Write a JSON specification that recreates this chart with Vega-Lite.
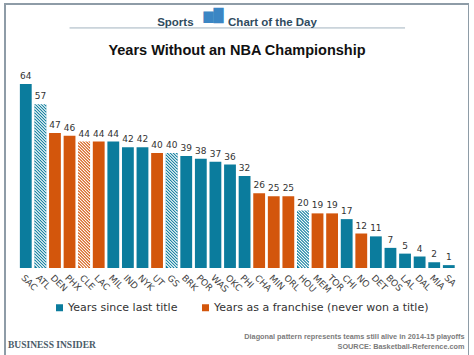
{
  "$schema": "https://vega.github.io/schema/vega-lite/v6.json",
  "autosize": "none",
  "padding": {"left": 5, "top": 4, "right": 0, "bottom": 0},
  "width": 464,
  "height": 352,
  "background": "white",
  "config": {"view": {"stroke": "#8e9ca7", "strokeWidth": 2}},
  "title": {
    "text": "Sports\u2003\u2003\u2003Chart of the Day",
    "subtitle": "Years Without an NBA Championship",
    "anchor": "middle",
    "frame": "group",
    "offset": -53,
    "font": "Liberation Sans",
    "fontSize": 11.5,
    "fontWeight": "bold",
    "color": "#2f4b5e",
    "subtitleFont": "Liberation Sans",
    "subtitleFontSize": 14.5,
    "subtitleFontWeight": "bold",
    "subtitleColor": "#111111",
    "subtitlePadding": 15
  },
  "data": {
    "values": [
      {"team": "SAC", "years": 64, "type": "Years since last title", "alive": false},
      {"team": "ATL", "years": 57, "type": "Years since last title", "alive": true},
      {"team": "DEN", "years": 47, "type": "Years as a franchise (never won a title)", "alive": false},
      {"team": "PHX", "years": 46, "type": "Years as a franchise (never won a title)", "alive": false},
      {"team": "CLE", "years": 44, "type": "Years as a franchise (never won a title)", "alive": true},
      {"team": "LAC", "years": 44, "type": "Years as a franchise (never won a title)", "alive": false},
      {"team": "MIL", "years": 44, "type": "Years since last title", "alive": false},
      {"team": "IND", "years": 42, "type": "Years since last title", "alive": false},
      {"team": "NYK", "years": 42, "type": "Years since last title", "alive": false},
      {"team": "UT", "years": 40, "type": "Years as a franchise (never won a title)", "alive": false},
      {"team": "GS", "years": 40, "type": "Years since last title", "alive": true},
      {"team": "BRK", "years": 39, "type": "Years since last title", "alive": false},
      {"team": "POR", "years": 38, "type": "Years since last title", "alive": false},
      {"team": "WAS", "years": 37, "type": "Years since last title", "alive": false},
      {"team": "OKC", "years": 36, "type": "Years since last title", "alive": false},
      {"team": "PHI", "years": 32, "type": "Years since last title", "alive": false},
      {"team": "CHA", "years": 26, "type": "Years as a franchise (never won a title)", "alive": false},
      {"team": "MIN", "years": 25, "type": "Years as a franchise (never won a title)", "alive": false},
      {"team": "ORL", "years": 25, "type": "Years as a franchise (never won a title)", "alive": false},
      {"team": "HOU", "years": 20, "type": "Years since last title", "alive": true},
      {"team": "MEM", "years": 19, "type": "Years as a franchise (never won a title)", "alive": false},
      {"team": "TOR", "years": 19, "type": "Years as a franchise (never won a title)", "alive": false},
      {"team": "CHI", "years": 17, "type": "Years since last title", "alive": false},
      {"team": "NO", "years": 12, "type": "Years as a franchise (never won a title)", "alive": false},
      {"team": "DET", "years": 11, "type": "Years since last title", "alive": false},
      {"team": "BOS", "years": 7, "type": "Years since last title", "alive": false},
      {"team": "LAL", "years": 5, "type": "Years since last title", "alive": false},
      {"team": "DAL", "years": 4, "type": "Years since last title", "alive": false},
      {"team": "MIA", "years": 2, "type": "Years since last title", "alive": false},
      {"team": "SA", "years": 1, "type": "Years since last title", "alive": false}
    ]
  },
  "layer": [
    {
      "mark": {"type": "bar"},
      "encoding": {
        "x": {
          "field": "team", "type": "nominal", "sort": null,
          "scale": {"paddingInner": 0.19, "paddingOuter": 1.007, "align": 0.51},
          "axis": {
            "orient": "bottom", "offset": -88, "domain": false, "ticks": false,
            "labelAngle": 45, "labelAlign": "left", "labelBaseline": "top", "labelPadding": 5,
            "labelOverlap": false, "labelFont": "DejaVu Sans", "labelFontSize": 9, "labelColor": "#444444",
            "title": ["Diagonal pattern represents teams still alive in 2014-15 playoffs", "SOURCE: Basketball-Reference.com"],
            "titleX": 459, "titleY": 70, "titleAlign": "right", "titleAnchor": "end", "titleBaseline": "alphabetic",
            "titleFont": "Liberation Sans",
            "titleFontSize": 7.3, "titleFontWeight": "bold", "titleColor": "#7b7b7b", "titleLineHeight": 10, "titleLimit": 0
          }
        },
        "y": {
          "field": "years", "type": "quantitative",
          "scale": {"domain": [-30.61, 91.83], "nice": false, "zero": false},
          "axis": {
            "orient": "left", "labels": false, "ticks": false, "domain": false, "grid": false,
            "title": "BUSINESS INSIDER", "titleAngle": 0, "titleX": 2.5, "titleY": 343,
            "titleAlign": "left", "titleBaseline": "alphabetic", "titleFont": "Liberation Serif",
            "titleFontSize": 9.5, "titleFontWeight": "bold", "titleColor": "#4a5b68"
          }
        },
        "y2": {"datum": 0},
        "color": {
          "field": "type", "type": "nominal",
          "scale": {"domain": ["Years since last title", "Years as a franchise (never won a title)"], "range": ["#0b7c9d", "#d3560c"]},
          "legend": {
            "title": null, "orient": "none", "legendX": 49, "legendY": 298, "direction": "horizontal",
            "symbolType": "square", "symbolSize": 49, "symbolStrokeWidth": 0, "symbolOpacity": 1,
            "labelFont": "DejaVu Sans", "labelFontSize": 11, "labelColor": "#333333", "labelLimit": 400,
            "columnPadding": 22, "labelOffset": 3, "padding": 0
          }
        }
      }
    },
    {
      "transform": [{"filter": "datum.alive"}],
      "mark": {
        "type": "point",
        "shape": "M-0.59,-0.39L-0.2,0M-0.59,-0.69L0.1,0M-0.59,-0.99L0.4,0M-0.59,-1.29l1.18,1.18m-1.18,-1.48l1.18,1.18m-1.18,-1.48l1.18,1.18m-1.18,-1.48l1.18,1.18m-1.18,-1.48l1.18,1.18m-1.18,-1.48l1.18,1.18m-1.18,-1.48l1.18,1.18m-1.18,-1.48l1.18,1.18m-1.18,-1.48l1.18,1.18m-1.18,-1.48l1.18,1.18m-1.18,-1.48l1.18,1.18m-1.18,-1.48l1.18,1.18m-1.18,-1.48l1.18,1.18m-1.18,-1.48l1.18,1.18m-1.18,-1.48l1.18,1.18m-1.18,-1.48l1.18,1.18m-1.18,-1.48l1.18,1.18m-1.18,-1.48l1.18,1.18m-1.18,-1.48l1.18,1.18m-1.18,-1.48l1.18,1.18m-1.18,-1.48l1.18,1.18m-1.18,-1.48l1.18,1.18m-1.18,-1.48l1.18,1.18m-1.18,-1.48l1.18,1.18m-1.18,-1.48l1.18,1.18m-1.18,-1.48l1.18,1.18m-1.18,-1.48l1.18,1.18m-1.18,-1.48l1.18,1.18m-1.18,-1.48l1.18,1.18m-1.18,-1.48l1.18,1.18m-1.18,-1.48l1.18,1.18m-1.18,-1.48l1.18,1.18m-1.18,-1.48l1.18,1.18m-1.18,-1.48l1.18,1.18m-1.18,-1.48l1.18,1.18m-1.18,-1.48l1.18,1.18m-1.18,-1.48l1.18,1.18m-1.18,-1.48l1.18,1.18m-1.18,-1.48l1.18,1.18m-1.18,-1.48l1.18,1.18m-1.18,-1.48l1.18,1.18m-1.18,-1.48l1.18,1.18m-1.18,-1.48l1.18,1.18m-1.18,-1.48l1.18,1.18m-1.18,-1.48l1.18,1.18m-1.18,-1.48l1.18,1.18m-1.18,-1.48l1.18,1.18m-1.18,-1.48l1.18,1.18m-1.18,-1.48l1.18,1.18m-1.18,-1.48l1.18,1.18m-1.18,-1.48l1.18,1.18m-1.18,-1.48l1.18,1.18m-1.18,-1.48l1.18,1.18m-1.18,-1.48l1.18,1.18m-1.18,-1.48l1.18,1.18m-1.18,-1.48l1.18,1.18m-1.18,-1.48l1.18,1.18m-1.18,-1.48l1.18,1.18m-1.18,-1.48l1.18,1.18",
        "size": 400,
        "filled": false,
        "color": "#ffffff",
        "stroke": "#ffffff",
        "strokeWidth": 1.1,
        "opacity": 1
      },
      "encoding": {
        "x": {"field": "team", "type": "nominal", "sort": null, "axis": null},
        "y": {
          "datum": 0, "type": "quantitative",
          "axis": {
            "orient": "right", "labels": false, "ticks": false, "domain": false, "grid": false,
            "title": "▆█", "titleAngle": 0, "titleX": -266, "titleY": 15.5,
            "titleAlign": "left", "titleBaseline": "alphabetic", "titleFont": "DejaVu Sans",
            "titleFontSize": 13, "titleFontWeight": "normal", "titleColor": "#3b86c4"
          }
        }
      }
    },
    {
      "mark": {"type": "text", "baseline": "alphabetic", "dy": -5, "font": "DejaVu Sans", "fontSize": 9, "color": "#333333"},
      "encoding": {
        "x": {"field": "team", "type": "nominal", "sort": null, "axis": null},
        "y": {"field": "years", "type": "quantitative", "axis": null},
        "text": {"field": "years", "type": "quantitative"}
      }
    },
    {
      "transform": [{"filter": "datum.team === 'SAC'"}],
      "mark": {"type": "rule", "color": "#a3b3bf", "strokeWidth": 1},
      "encoding": {
        "x": {"datum": "PHX", "type": "nominal", "axis": null},
        "x2": {"datum": "LAL"},
        "y": {"datum": 83.5, "type": "quantitative", "axis": null}
      }
    }
  ],
  "resolve": {"axis": {"x": "independent", "y": "independent"}}
}
